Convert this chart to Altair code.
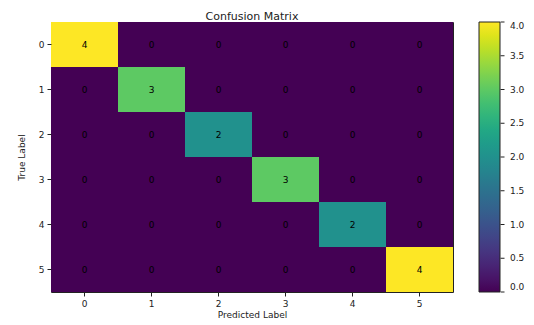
import altair as alt
import pandas as pd

labels = ["0", "1", "2", "3", "4", "5"]
matrix = [
    [4, 0, 0, 0, 0, 0],
    [0, 3, 0, 0, 0, 0],
    [0, 0, 2, 0, 0, 0],
    [0, 0, 0, 3, 0, 0],
    [0, 0, 0, 0, 2, 0],
    [0, 0, 0, 0, 0, 4],
]
cbar_ticks = [0.0, 0.5, 1.0, 1.5, 2.0, 2.5, 3.0, 3.5, 4.0]

rows = []
for i, t in enumerate(labels):
    for j, p in enumerate(labels):
        rows.append({"true": t, "pred": p, "count": matrix[i][j]})
df = pd.DataFrame(rows)
ticks_df = pd.DataFrame({"v": cbar_ticks})

axis_style = dict(labelAngle=0, labelFontSize=9, labelColor="#222", tickSize=4,
                  tickColor="#222", domain=False, grid=False, titleFontSize=9,
                  titleFontWeight="normal", titleColor="#222", labelPadding=3)

base = alt.Chart(df).encode(
    x=alt.X("pred:O", sort=labels, title="Predicted Label",
            scale=alt.Scale(paddingInner=0, paddingOuter=0),
            axis=alt.Axis(titlePadding=2, **axis_style)),
    y=alt.Y("true:O", sort=labels, title="True Label",
            scale=alt.Scale(paddingInner=0, paddingOuter=0),
            axis=alt.Axis(titlePadding=12, **axis_style)),
)

rect = base.mark_rect(strokeWidth=0).encode(
    color=alt.Color("count:Q", scale=alt.Scale(scheme="viridis", domain=[0, 4]),
                    legend=alt.Legend(orient="none", legendX=428, legendY=0,
                                      direction="vertical", gradientLength=270,
                                      gradientThickness=21, values=cbar_ticks,
                                      format=".1f", labelFontSize=9, labelOffset=10,
                                      labelColor="#222", title=None,
                                      gradientStrokeColor="#222",
                                      gradientStrokeWidth=1))
)
text = base.mark_text(fontSize=9, color="black").encode(text="count:Q")
heat = alt.layer(rect, text)

cbar_tick_marks = alt.Chart(ticks_df).mark_tick(
    color="#222", orient="horizontal", size=4, thickness=1, opacity=1
).encode(
    x=alt.value(451.5),
    y=alt.Y("v:Q", scale=alt.Scale(domain=[0, 4], nice=False, zero=False), axis=None),
)

chart = alt.layer(heat, cbar_tick_marks).resolve_scale(y="independent").properties(
    width=402, height=270,
    title=alt.TitleParams("Confusion Matrix", fontSize=11, fontWeight="normal",
                          color="#222", offset=0),
    autosize=alt.AutoSizeParams(type="none"),
    padding={"left": 43, "top": 14, "right": 73, "bottom": 31},
).configure(font="DejaVu Sans").configure_view(stroke="#222", strokeWidth=1)

chart.save("out.html", embed_options={"renderer": "svg", "actions": False})
